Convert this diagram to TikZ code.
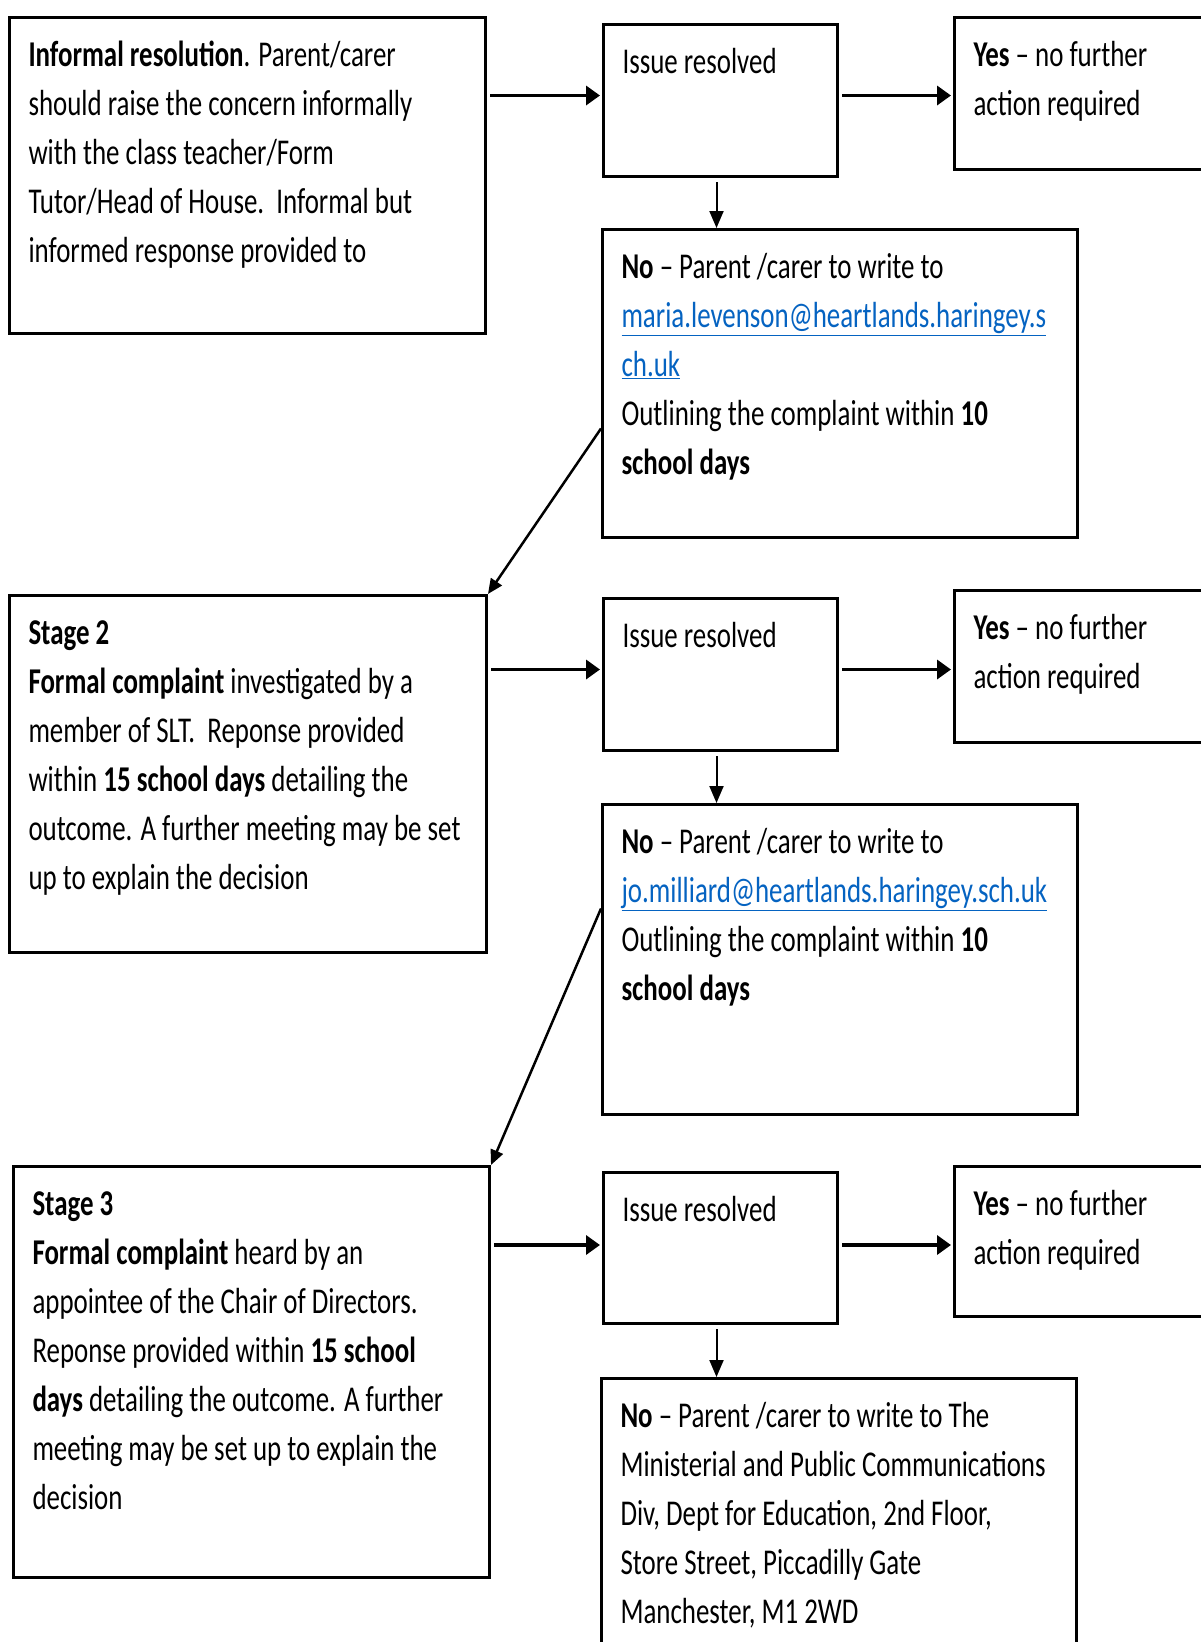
\documentclass[tikz,border=0pt]{standalone}
\usepackage{fontspec}
\setmainfont{Carlito}
\usepackage{graphicx}
\usetikzlibrary{calc,positioning,arrows.meta}
\definecolor{linkblue}{HTML}{0563C1}
\newcommand{\boxtext}[2]{\scalebox{1}[1.35]{\parbox[t]{#1}{\raggedright\fontsize{26.9pt}{36.3pt}\selectfont #2}}}
\newcommand{\mail}[1]{\textcolor{linkblue}{\underline{#1}}}

\tikzset{
  box/.style={draw, line width=3pt, anchor=north west, inner xsep=19pt, inner ysep=0pt, text height=49pt},
  flow/.style={-{Triangle[length=14pt,width=19pt]}, line width=3.6pt, shorten <=3pt, shorten >=2pt},
  drop/.style={-{Triangle[length=17pt,width=14pt]}, line width=2pt, shorten <=4pt},
  slant/.style={-{Triangle[length=15pt,width=13pt]}, line width=2.5pt}
}

\begin{document}
\begin{tikzpicture}[x=1pt,y=-1pt]
    \clip (0,0) rectangle (1201,1642);

    \node[box, text depth=267pt] (informal) at (8,16) {\boxtext{438pt}{\textbf{Informal resolution}. Parent/carer\\
        should raise the concern informally\\
        with the class teacher/Form\\
        Tutor/Head of House.\ \ Informal but\\
        informed response provided to}};
    \node[box, text depth=103pt] (resolvedA) at (602,23) {\boxtext{196pt}{Issue resolved}};
    \node[box, text depth=103pt] (yesA) at (953,16) {\boxtext{222pt}{\textbf{Yes} -- no further\\ action required}};
    \node[box, text depth=259pt] (noA) at (601,228) {\boxtext{437pt}{\textbf{No} -- Parent /carer to write to\\
        \mail{maria.levenson@heartlands.haringey.s}\\
        \mail{ch.uk}\\
        Outlining the complaint within \textbf{10}\\
        \textbf{school days}}};

    \node[box, text depth=308pt] (stageB) at (8,594) {\boxtext{439pt}{\textbf{Stage 2}\\
        \textbf{Formal complaint} investigated by a\\
        member of SLT.\ \ Reponse provided\\
        within \textbf{15 school days} detailing the\\
        outcome. A further meeting may be set\\
        up to explain the decision}};
    \node[box, text depth=103pt] (resolvedB) at (602,597) {\boxtext{196pt}{Issue resolved}};
    \node[box, text depth=103pt] (yesB) at (953,589) {\boxtext{222pt}{\textbf{Yes} -- no further\\ action required}};
    \node[box, text depth=261pt] (noB) at (601,803) {\boxtext{437pt}{\textbf{No} -- Parent /carer to write to\\
        \mail{jo.milliard@heartlands.haringey.sch.uk}\\
        Outlining the complaint within \textbf{10}\\
        \textbf{school days}}};

    \node[box, text depth=362pt] (stageC) at (12,1165) {\boxtext{438pt}{\textbf{Stage 3}\\
        \textbf{Formal complaint} heard by an\\
        appointee of the Chair of Directors.\\
        Reponse provided within \textbf{15 school}\\
        \textbf{days} detailing the outcome. A further\\
        meeting may be set up to explain the\\
        decision}};
    \node[box, text depth=102pt] (resolvedC) at (602,1171) {\boxtext{196pt}{Issue resolved}};
    \node[box, text depth=101pt] (yesC) at (953,1165) {\boxtext{222pt}{\textbf{Yes} -- no further\\ action required}};
    \node[box, text depth=241pt] (noC) at (600,1377) {\boxtext{437pt}{\textbf{No} -- Parent /carer to write to The\\
        Ministerial and Public Communications\\
        Div, Dept for Education, 2nd Floor,\\
        Store Street, Piccadilly Gate\\
        Manchester, M1 2WD}};

    \draw[flow] ([yshift=5pt]resolvedA.west -| informal.east) -- ([yshift=5pt]resolvedA.west);
    \draw[flow] ([yshift=5pt]resolvedA.east) -- ([yshift=5pt]resolvedA.east -| yesA.west);
    \draw[drop] ([xshift=-4pt]resolvedA.south) -- ([xshift=-4pt]resolvedA.south |- noA.north);
    \draw[slant] ([yshift=-45pt]noA.west) -- (stageB.north east);

    \draw[flow] ([yshift=5pt]resolvedB.west -| stageB.east) -- ([yshift=5pt]resolvedB.west);
    \draw[flow] ([yshift=5pt]resolvedB.east) -- ([yshift=5pt]resolvedB.east -| yesB.west);
    \draw[drop] ([xshift=-4pt]resolvedB.south) -- ([xshift=-4pt]resolvedB.south |- noB.north);
    \draw[slant] ([yshift=51pt]noB.west) -- (stageC.north east);

    \draw[flow] ([yshift=3pt]resolvedC.west -| stageC.east) -- ([yshift=3pt]resolvedC.west);
    \draw[flow] ([yshift=3pt]resolvedC.east) -- ([yshift=3pt]resolvedC.east -| yesC.west);
    \draw[drop] ([xshift=-4pt]resolvedC.south) -- ([xshift=-4pt]resolvedC.south |- noC.north);
\end{tikzpicture}
\end{document}
